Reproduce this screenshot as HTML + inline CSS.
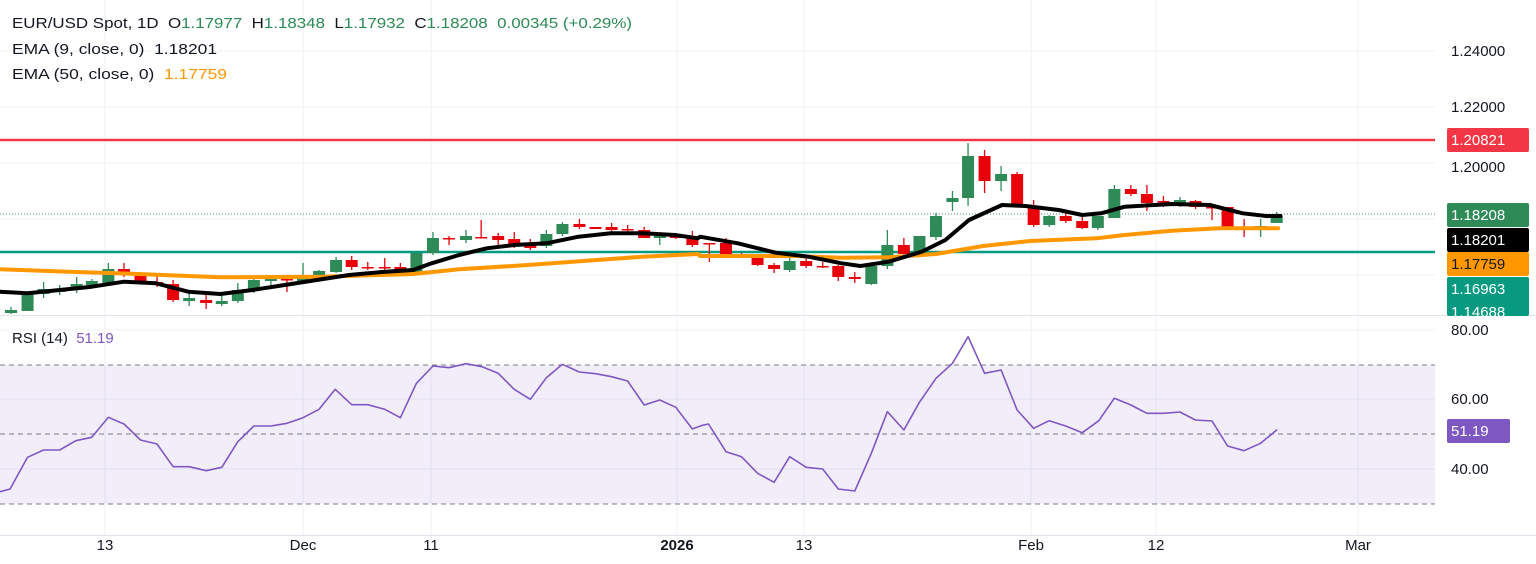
<!DOCTYPE html>
<html><head><meta charset="utf-8"><style>
html,body{margin:0;padding:0;background:#fff;}
svg{display:block;font-family:"Liberation Sans",sans-serif;}
</style></head><body>
<svg id="s" width="1536" height="564" xmlns="http://www.w3.org/2000/svg"></svg>
<script>
const s=document.getElementById('s');let h='';
const W=1435;
[51,107,163,219,275].forEach(y=>h+=`<line x1="0" x2="${W}" y1="${y}" y2="${y}" stroke="#eef0f3"/>`);
[330,399,469].forEach(y=>h+=`<line x1="0" x2="${W}" y1="${y}" y2="${y}" stroke="#eef0f3"/>`);
[105,303,431,677,804,1031,1156,1358].forEach(x=>h+=`<line x1="${x}" x2="${x}" y1="0" y2="535" stroke="#eef0f3"/>`);
h+=`<line x1="0" x2="1536" y1="315.5" y2="315.5" stroke="#e0e3eb"/>`;
h+=`<line x1="0" x2="1536" y1="535.5" y2="535.5" stroke="#e0e3eb"/>`;
h+=`<rect x="0" y="365" width="${W}" height="139" fill="#7e57c2" fill-opacity="0.1"/>`;
[365,434,504].forEach(y=>h+=`<line x1="0" x2="${W}" y1="${y}" y2="${y}" stroke="#787b86" stroke-dasharray="5,4"/>`);
h+=`<line x1="0" x2="${W}" y1="140" y2="140" stroke="#f23645" stroke-width="2.5"/>`;
h+=`<line x1="0" x2="${W}" y1="252" y2="252" stroke="#089981" stroke-width="2.5"/>`;
h+=`<line x1="0" x2="${W}" y1="214" y2="214" stroke="#3b8f6a" stroke-dasharray="1,2"/>`;
const k1=2.178,k2=2.119;
const c1=[[24,313,310,307,314],[60,311,294,294,311],[95,294,289,282,298],[130,292,290,285,295],[167,289,284,277,293],[200,285,281,279,286],[236,283,269,263,286],[270,269,273,263,277],[306,273,283,272,284],[342,282,285,276,287],[377,284,300,280,302],[412,301,298,293,306],[449,300,303,294,309],[483,304,301,293,306],[518,301,290,283,303],[553,290,280,277,293],[590,281,279,275,285],[625,279,280,277,292],[660,281,276,263,282],[695,277,271,270,280],[732,272,260,257,273],[766,260,267,256,270],[801,267,267,262,270],[838,267,268,258,273],[872,267,272,263,273],[907,272,253,252,272],[943,253,238,232,255],[978,238,239,236,245],[1015,240,236,230,243],[1048,237,237,220,238],[1085,236,240,233,248],[1120,239,245,232,248],[1155,244,248,239,250],[1190,246,234,230,248],[1225,234,224,222,236],[1262,224,227,219,229],[1297,227,229,227,229],[1332,227,230,223,232],[1367,229,229,225,235],[1403,230,238,227,238],[1437,238,236,233,245],[1472,236,238,236,239],[1508,237,245,231,247],[1545,243,243,243,262]];
const c2=[[55,243,254,238,255],[88,254,257,253,258],[122,257,265,256,266],[157,265,269,263,273],[190,270,261,253,272],[225,261,266,257,268],[260,266,267,262,268],[293,266,277,265,281],[328,277,279,272,283],[363,284,266,266,285],[397,266,245,230,269],[432,245,254,238,257],[465,254,236,236,255],[500,237,216,213,240],[535,202,198,191,211],[568,198,156,143,206],[603,156,181,150,193],[638,181,174,166,191],[672,174,207,172,207],[707,208,225,200,227],[740,225,216,215,227],[775,216,221,212,223],[810,221,228,217,229],[843,228,216,216,230],[878,218,189,185,218],[913,189,194,185,196],[947,194,203,185,211],[982,201,201,196,207],[1017,203,200,197,207],[1050,201,207,200,209],[1085,207,207,205,220],[1118,207,227,207,228],[1153,227,230,219,237],[1188,230,226,219,237],[1222,223,216,212,223]];
function cand(x,o,c,hi,lo){const g=c<o;const col=g?'#2e8b57':'#e8000b';const t=Math.min(o,c),b=Math.max(o,c);
h+=`<line x1="${x}" x2="${x}" y1="${hi}" y2="${lo}" stroke="${col}" stroke-width="1.3"/>`;
h+=`<rect x="${x-6}" y="${t}" width="12" height="${Math.max(b-t,1.5)}" fill="${col}"/>`;}
c1.forEach(a=>cand(a[0]/k1,a[1],a[2],a[3],a[4]));
c2.forEach(a=>cand(700+a[0]/k2,a[1],a[2],a[3],a[4]));
function line(p1,p2,col,w,oy,sc){let pts=p1.map(p=>[(p[0]/k1),oy+p[1]/sc]).concat(p2.map(p=>[700+p[0]/k2,oy+p[1]/sc]));
pts.sort((a,b)=>a[0]-b[0]);
h+=`<polyline fill="none" stroke="${col}" stroke-width="${w}" stroke-linejoin="round" stroke-linecap="round" points="${pts.map(p=>p[0].toFixed(1)+','+p[1].toFixed(1)).join(' ')}"/>`;}
line([[0,418],[150,425],[300,432],[480,442],[700,440],[900,432],[1000,418],[1150,405],[1300,390],[1400,380],[1520,372]],
 [[0,378],[200,378],[300,383],[400,382],[500,372],[600,348],[700,333],[840,325],[900,315],[1000,302],[1100,295],[1225,295]],'#ff9800',4,130,3);
line([[0,485],[60,490],[130,480],[200,470],[270,455],[340,460],[410,485],[480,492],[550,480],[620,465],[690,450],[760,435],[840,425],[900,420],[940,400],[1000,375],[1060,355],[1120,345],[1190,340],[1260,320],[1330,310],[1400,310],[1470,315],[1520,325]],
 [[0,320],[80,340],[160,368],[230,380],[300,400],[340,408],[400,395],[470,365],[520,330],[570,270],[640,225],[690,228],[760,240],[810,255],[850,250],[900,230],[1000,222],[1080,225],[1150,250],[1200,258],[1230,258]],'#000',4,130,3);
line([[0,515],[22,507],[60,412],[95,390],[130,390],[165,362],[200,352],[236,292],[270,312],[306,360],[342,372],[377,440],[412,440],[449,452],[483,442],[518,365],[553,318],[590,318],[625,310],[660,293],[695,268],[730,208],[766,254],[801,254],[838,268],[872,293],[907,190],[943,138],[978,143],[1015,131],[1050,140],[1085,160],[1120,208],[1155,238],[1190,173],[1225,133],[1262,156],[1297,161],[1332,170],[1367,183],[1403,255],[1437,240],[1472,262],[1508,327],[1530,316]],
 [[18,312],[55,395],[88,410],[122,460],[157,487],[190,410],[225,442],[260,447],[293,507],[328,513],[363,400],[397,275],[432,330],[465,247],[500,175],[535,130],[568,50],[603,160],[638,150],[672,270],[707,325],[740,302],[775,318],[810,338],[845,302],[878,235],[913,255],[947,280],[982,280],[1017,276],[1050,300],[1085,303],[1118,378],[1153,392],[1188,370],[1222,330]],'#7e57c2',1.6,320,3);
const ax=(y,t)=>h+=`<text x="1451" y="${y+5}" font-size="15" fill="#131722">${t}</text>`;
ax(51,'1.24000');ax(107,'1.22000');ax(167,'1.20000');
ax(330,'80.00');ax(399,'60.00');ax(469,'40.00');
h+=`<rect x="1447" y="298" width="82" height="18" rx="2" fill="#089981"/><text x="1451" y="317" font-size="15" fill="#fff">1.14688</text>`;
h+=`<rect x="1436" y="316" width="100" height="6" fill="#fff"/>`;
const box=(y,col,fc,t)=>h+=`<rect x="1447" y="${y-12}" width="82" height="24" rx="2" fill="${col}"/><text x="1451" y="${y+5}" font-size="15" fill="${fc}">${t}</text>`;
box(140,'#f23645','#fff','1.20821');
box(215,'#2e8b57','#fff','1.18208');
box(240,'#000','#fff','1.18201');
box(264,'#ff9800','#131722','1.17759');
box(289,'#089981','#fff','1.16963');
h+=`<rect x="1447" y="419" width="63" height="24" rx="2" fill="#7e57c2"/><text x="1451" y="436" font-size="15" fill="#fff">51.19</text>`;
[[105,'13'],[303,'Dec'],[431,'11'],[677,'2026'],[804,'13'],[1031,'Feb'],[1156,'12'],[1358,'Mar']].forEach(a=>h+=`<text x="${a[0]}" y="550" font-size="15" fill="#131722" text-anchor="middle" ${a[1]=='2026'?'font-weight="bold"':''}>${a[1]}</text>`);
h+=`<text x="12" y="28" font-size="15" fill="#131722" xml:space="preserve" textLength="620" lengthAdjust="spacingAndGlyphs">EUR/USD Spot, 1D  O<tspan fill="#2e8b57">1.17977</tspan>  H<tspan fill="#2e8b57">1.18348</tspan>  L<tspan fill="#2e8b57">1.17932</tspan>  C<tspan fill="#2e8b57">1.18208</tspan>  <tspan fill="#2e8b57">0.00345 (+0.29%)</tspan></text>`;
h+=`<text x="12" y="54" font-size="15" fill="#131722" xml:space="preserve" textLength="205" lengthAdjust="spacingAndGlyphs">EMA (9, close, 0)  1.18201</text>`;
h+=`<text x="12" y="79" font-size="15" fill="#131722" xml:space="preserve" textLength="215" lengthAdjust="spacingAndGlyphs">EMA (50, close, 0)  <tspan fill="#ff9800">1.17759</tspan></text>`;
h+=`<text x="12" y="343" font-size="15" fill="#131722" xml:space="preserve">RSI (14)  <tspan fill="#7e57c2">51.19</tspan></text>`;
s.innerHTML=h;
</script>
</body></html>
